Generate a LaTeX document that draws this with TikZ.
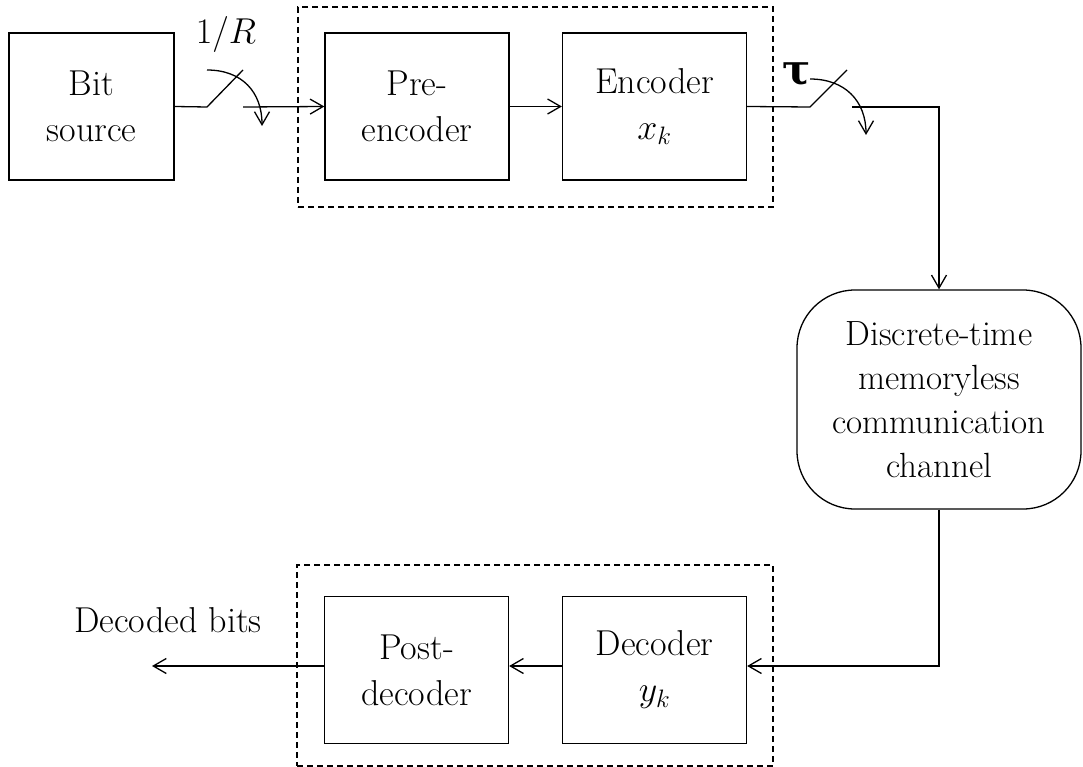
\RequirePackage{fix-cm}
\documentclass[tikz,border=0pt]{standalone}
\usepackage{amsmath,amssymb}
\usepackage{fontspec}
\newfontfamily\taufont{DejaVu Serif}
\usetikzlibrary{arrows.meta,calc}
\begin{document}
\begin{tikzpicture}[x=1pt,y=-1pt,
  line width=1.3pt,
  tip/.style={-{Straight Barb[length=13pt,width=15pt,line width=1.3pt]}},
  block/.style={draw, minimum width=184pt, minimum height=147pt, align=center,
    inner sep=2pt, font=\fontsize{36}{46}\selectfont},
  chan/.style={draw, rounded corners=58pt, minimum width=284pt, minimum height=219pt,
    align=center, inner sep=2pt, font=\fontsize{35}{44}\selectfont},
  group/.style={draw, dash pattern=on 6pt off 4pt, line width=1.1pt},
  lbl/.style={inner sep=0pt, font=\fontsize{36}{46}\selectfont}]
\useasboundingbox (0,0) rectangle (1083,767);

% dashed groupings
\node[group, minimum width=475pt, minimum height=200pt] (gtx) at (535.5,107) {};
\node[group, minimum width=476pt, minimum height=201pt] (grx) at (535,665.5) {};

% processing blocks
\node[block, minimum width=165pt] (bs) at (91.5,106.5) {Bit\\source};
\node[block] (pre) at (417,106.5) {Pre-\\encoder};
\node[block] (enc) at (654.5,106.5) {Encoder\\$x_k$};
\node[chan] (ch) at (939,399.5) {Discrete-time\\memoryless\\communication\\channel};
\node[block] (dec) at (654.5,670) {Decoder\\$y_k$};
\node[block] (post) at (416.5,670) {Post-\\decoder};

% sampling switch at rate 1/R
\coordinate (s1a) at (207,107);
\coordinate (s1b) at (243,70);
\coordinate (s1c) at (243,107);
\draw (bs.east) -- (s1a) -- (s1b);
\draw[tip] (s1c) -- (pre.west);
\draw[tip] (207,70) .. controls (242,70) and (262,92) .. (262,126);
\node[lbl] (rate) at (226,35) {$1/R$};

\draw[tip] (pre.east) -- (enc.west);

% sampling switch at period tau
\coordinate (s2a) at (810,107);
\coordinate (s2b) at (847,70);
\coordinate (s2c) at (852,107);
\draw (enc.east) -- (s2a) -- (s2b);
\draw[tip] (s2c) -- (ch.north |- s2c) -- (ch.north);
\draw[tip] (810,79) .. controls (845,79) and (866,101) .. (866,135);
\node[inner sep=0pt, font=\taufont\bfseries\fontsize{42}{42}\selectfont] (tau) at (797,74) {τ};

% receiver chain
\coordinate (din) at ($(dec.east)+(0,-4)$);
\draw[tip] (ch.south) |- (din);
\draw[tip] (dec.west |- din) -- (post.east |- din);
\coordinate (out) at (152,666);
\draw[tip] (post.west |- out) -- (out);
\node[lbl] (bits) at (168,620) {Decoded bits};
\end{tikzpicture}
\end{document}
